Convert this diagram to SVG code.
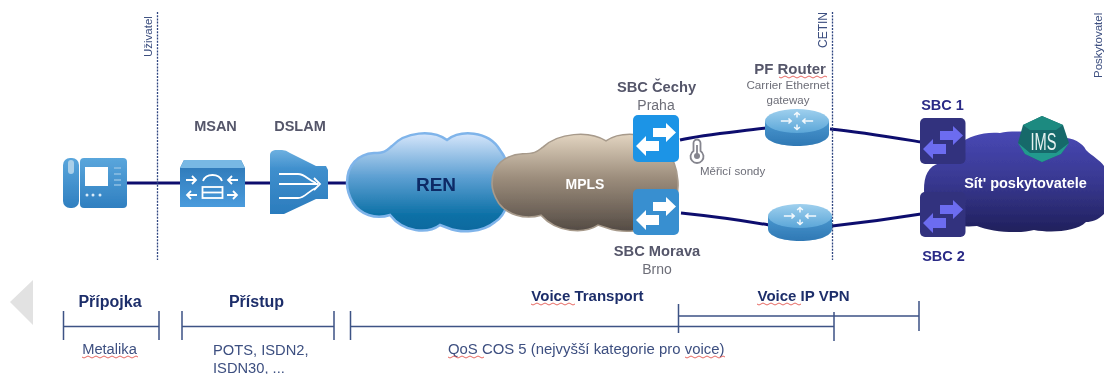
<svg xmlns="http://www.w3.org/2000/svg" xmlns:xlink="http://www.w3.org/1999/xlink" width="1104" height="374" viewBox="0 0 1104 374">
<style>
text{font-family:"Liberation Sans",Arial,sans-serif}
.m{text-anchor:middle}
.lb{font-weight:bold;fill:#55566a}
.sub{fill:#6d6e78}
.nv{font-weight:bold;fill:#1f2f6b}
.tx{fill:#3d4f80}
.sb{font-weight:bold;fill:#2a2a86;font-size:14.500px}
.link{fill:none;stroke:#10106e;stroke-width:3}
.div{fill:none;stroke:#2f4480;stroke-width:1.3;stroke-dasharray:2 1.2}
.bar{fill:none;stroke:#3d5285;stroke-width:1.5}
.wavy{fill:none;stroke:#e0413a;stroke-width:.8}
.w{fill:#fff}
.wl{fill:none;stroke:#fff;stroke-width:1.8}
</style>
<defs>
<filter id="soft" x="-2%" y="-2%" width="104%" height="104%"><feGaussianBlur stdDeviation="0.5"/></filter>
<linearGradient id="gPhone" x1="0" y1="0" x2="0" y2="1"><stop offset="0" stop-color="#5aa6dc"/><stop offset="1" stop-color="#2f7fc0"/></linearGradient>
<linearGradient id="gBox" x1="0" y1="0" x2="0" y2="1"><stop offset="0" stop-color="#2b76b5"/><stop offset="1" stop-color="#4a9bdc"/></linearGradient>
<linearGradient id="gDslam" x1="0" y1="0" x2="0" y2="1"><stop offset="0" stop-color="#6db0e0"/><stop offset=".3" stop-color="#3f8fcd"/><stop offset="1" stop-color="#2b7cbd"/></linearGradient>
<linearGradient id="gRen" x1="0" y1="0" x2="0" y2="1"><stop offset="0" stop-color="#d6e6fb"/><stop offset=".45" stop-color="#5c9fd2"/><stop offset=".85" stop-color="#0a6fa5"/><stop offset="1" stop-color="#0a6a9f"/></linearGradient>
<linearGradient id="gMpls" x1="0" y1="0" x2="0" y2="1"><stop offset="0" stop-color="#e2d4c0"/><stop offset=".45" stop-color="#9c8d7c"/><stop offset="1" stop-color="#544b44"/></linearGradient>
<linearGradient id="gProv" x1="0" y1="0" x2="0" y2="1"><stop offset="0" stop-color="#4848b4"/><stop offset=".5" stop-color="#383890"/><stop offset="1" stop-color="#20205c"/></linearGradient>
<linearGradient id="gRouter" x1="0" y1="0" x2="0" y2="1"><stop offset="0" stop-color="#9fd0ee"/><stop offset="1" stop-color="#5ba6d8"/></linearGradient>
<linearGradient id="gRouterB" x1="0" y1="0" x2="0" y2="1"><stop offset="0" stop-color="#4a97cf"/><stop offset="1" stop-color="#2f78b4"/></linearGradient>
<path id="cloud" d="M347,183C347,165 358,154 374,153C386,153 387,150 392,146C405,132 432,129 447,140C460,130 488,130 500,150C504,155 509,165 510,180C511,195 507,215 495,222C482,233 460,233 448,228L440,225C428,234 404,233 390,215C375,220 360,214 353,203C349,196 347,190 347,183Z"/>
<g id="arrows">
<path d="M20,13H33V8L43,17.500L33,27V22H20Z" fill="currentColor"/>
<path d="M26,26H13V21L3,31L13,41V36H26Z" fill="currentColor"/>
</g>
<g id="rarrows" fill="none" stroke="#fff" stroke-width="1.600" opacity=".9">
<path d="M0,-10V-4M-3,-7L0,-10L3,-7"/>
<path d="M0,10V4M-3,7L0,10L3,7"/>
<path d="M-17,0H-6M-9,-3L-6,0L-9,3"/>
<path d="M17,0H6M9,-3L6,0L9,3"/>
</g>
</defs>
<g filter="url(#soft)">
<rect width="1104" height="374" fill="#fff"/>
<g id="connectors">
<path class="link" d="M127,183H180M245,183H272M326,183H348"/>
<path class="link" d="M680,140C705,134 735,132 766,128"/>
<path class="link" d="M681,213C710,216 740,220 769,225"/>
<path class="link" d="M830,129C860,132 890,137 921,142"/>
<path class="link" d="M832,226C860,223 890,219 921,214"/>
</g>
<g id="dividers">
<path class="div" d="M157.500,12V260"/>
<path class="div" d="M832.500,12V260"/>
<text class="tx" font-size="11.500" transform="translate(152,57) rotate(-90)">Uživatel</text>
<text class="tx" font-size="12" transform="translate(827,48) rotate(-90)">CETIN</text>
<text class="tx" font-size="11.500" transform="translate(1102,78) rotate(-90)">Poskytovatel</text>
</g>
<g id="phone">
<rect x="63" y="158" width="16" height="50" rx="7" fill="url(#gPhone)"/>
<rect x="68" y="160" width="6" height="14" rx="3" fill="#a9cfe9"/>
<rect x="80" y="158" width="47" height="50" rx="4" fill="url(#gPhone)"/>
<rect x="85" y="167" width="23" height="19" fill="#fff"/>
<path d="M114,168H121M114,174H121M114,180H121M114,185H121" stroke="#8fc0e4" stroke-width="1.500"/>
<circle cx="87" cy="195" r="1.500" fill="#d8ebf8"/><circle cx="93" cy="195" r="1.500" fill="#d8ebf8"/><circle cx="100" cy="195" r="1.500" fill="#d8ebf8"/>
</g>
<g id="msan">
<path d="M184,160H241L245,168V207H180V168Z" fill="url(#gBox)"/>
<path d="M184,160H241L245,168H180Z" fill="#78b8e4"/>
<g class="wl">
<path d="M186,180H196M192,176L196,180L192,184"/>
<path d="M238,180H228M232,176L228,180L232,184"/>
<path d="M197,195H187M191,191L187,195L191,199"/>
<path d="M227,195H237M233,191L237,195L233,199"/>
<path d="M203,181C206,173 219,173 222,181"/>
<rect x="202.500" y="187" width="20" height="11"/>
<path d="M202.500,192.500H222.500"/>
</g>
</g>
<g id="dslam">
<path d="M270,155Q270,151 275,150H282Q286,150 290,153L316,166H326L328,170V199H316L284,214H270Z" fill="url(#gDslam)"/>
<g class="wl">
<path d="M279,174H298C305,174 308,180 316,183"/>
<path d="M279,184H318"/>
<path d="M279,198H298C305,198 308,191 316,188"/>
<path d="M314,178L320,184L314,190"/>
</g>
</g>
<text class="lb m" font-size="14.500" x="215.500" y="131">MSAN</text>
<text class="lb m" font-size="14.500" x="300" y="131">DSLAM</text>
<g id="ren">
<use xlink:href="#cloud" href="#cloud" fill="url(#gRen)" stroke="#7fb4ea" stroke-width="2.500"/>
<text class="m" x="436" y="191" font-size="19" font-weight="bold" fill="#0f2a66">REN</text>
</g>
<g id="mpls">
<use xlink:href="#cloud" href="#cloud" fill="url(#gMpls)" stroke="#a79a8b" stroke-width="1.500" transform="translate(492,134) scale(1.140,.99) translate(-347,-133)"/>
<text class="m" x="585" y="189" font-size="14" font-weight="bold" fill="#fff">MPLS</text>
</g>
<g id="sbc-cechy">
<rect x="633" y="115" width="46" height="47" rx="5" fill="#1b94e6"/>
<use xlink:href="#arrows" href="#arrows" color="#fff" transform="translate(633,115)"/>
<text class="lb m" font-size="14.700" x="656.500" y="92">SBC Čechy</text>
<text class="sub m" font-size="14" x="656" y="110">Praha</text>
</g>
<g id="sbc-morava">
<rect x="633" y="189" width="46" height="46" rx="5" fill="#378fd0"/>
<use xlink:href="#arrows" href="#arrows" color="#fff" transform="translate(633,189)"/>
<text class="lb m" font-size="14.700" x="657" y="256">SBC Morava</text>
<text class="sub m" font-size="14" x="657" y="274">Brno</text>
</g>
<g id="sonda">
<path d="M693.500,143a3.500,3.500 0 0 1 7,0V151a6.500,6.500 0 1 1 -7,0Z" fill="#fff" stroke="#85858e" stroke-width="1.800"/>
<circle cx="697" cy="156" r="3" fill="#85858e"/><path d="M697,145V155" stroke="#85858e" stroke-width="1.800"/>
<text class="sub" font-size="11.500" x="700" y="175">Měřicí sondy</text>
</g>
<g id="pe-router">
<path d="M765,121V134C765,141 779,146 797,146C815,146 829,141 829,134V121Z" fill="url(#gRouterB)"/>
<ellipse cx="797" cy="121" rx="32" ry="12" fill="url(#gRouter)"/>
<use xlink:href="#rarrows" href="#rarrows" transform="translate(797,121) scale(.95,.85)"/>
<text class="lb m" font-size="15" x="790" y="74">PF Router</text>
<text class="sub m" font-size="11.700" x="788" y="89">Carrier Ethernet</text>
<text class="sub m" font-size="11.500" x="788" y="104">gateway</text>
<path class="wavy" d="M779,77q2,2 4,0t4,0t4,0t4,0t4,0t4,0t4,0t4,0t4,0t4,0t4,0t4,0"/>
</g>
<g id="router-2">
<path d="M768,216V229C768,236 782,241 800,241C818,241 832,236 832,229V216Z" fill="url(#gRouterB)"/>
<ellipse cx="800" cy="216" rx="32" ry="12" fill="url(#gRouter)"/>
<use xlink:href="#rarrows" href="#rarrows" transform="translate(800,216) scale(.95,.85)"/>
</g>
<g id="provider">
<path d="M924,190C924,176 928,166 940,163C946,150 970,130 1000,133C1015,130 1040,132 1056,138C1070,136 1082,142 1086,150C1092,156 1100,160 1104,166V214C1098,220 1092,222 1086,222C1076,232 1050,233 1034,230C1020,234 990,232 977,226C960,228 945,224 935,214C928,208 924,200 924,190Z" fill="url(#gProv)"/>
<text class="m" x="1025.500" y="188" font-size="14.500" font-weight="bold" fill="#fff">Sít' poskytovatele</text>
</g>
<g id="ims">
<path d="M1042,116L1063,125L1069,143L1061,154L1042,162L1025,154L1018,143L1023,125Z" fill="#17696b"/>
<path d="M1042,116L1063,125L1056,130H1030L1023,125Z" fill="#1f8a80"/>
<path d="M1018,143L1030,153H1056L1069,143L1061,154L1042,162L1025,154Z" fill="#239a8e"/>
<text class="m" x="1043.500" y="150" font-size="23" fill="#e6f2f0" textLength="26" lengthAdjust="spacingAndGlyphs">IMS</text>
</g>
<g id="sbc-1">
<rect x="920" y="118" width="45.500" height="46" rx="5" fill="#32327e"/>
<use xlink:href="#arrows" href="#arrows" color="#6c6cf0" transform="translate(920,118)"/>
<text class="sb m" x="942.500" y="110">SBC 1</text>
</g>
<g id="sbc-2">
<rect x="920" y="192" width="45.500" height="45" rx="5" fill="#32327e"/>
<use xlink:href="#arrows" href="#arrows" color="#6c6cf0" transform="translate(920,192)"/>
<text class="sb m" x="943.500" y="261">SBC 2</text>
</g>
<path id="slide-arrow" d="M33,280L10,302L33,325Z" fill="#e2e2e2"/>
<g id="scale">
<path class="bar" d="M63.500,311V340M63.500,326.500H159M159,311V340"/>
<path class="bar" d="M182,311V340M182,326.500H334M334,311V340"/>
<path class="bar" d="M350.500,311V340M350.500,326.500H834M834,312V341"/>
<path class="bar" d="M678.500,304V333M678.500,316H919M919,301V331"/>
<text class="nv m" font-size="16" x="110" y="307">Přípojka</text>
<text class="nv m" font-size="16" x="256.500" y="307">Přístup</text>
<text class="nv m" font-size="15" x="587.500" y="301">Voice Transport</text>
<text class="nv m" font-size="15" x="803.500" y="301">Voice IP VPN</text>
<text class="tx m" font-size="14.700" x="109.500" y="354">Metalika</text>
<text class="tx" font-size="14.700" x="213" y="355">POTS, ISDN2,</text>
<text class="tx" font-size="14.700" x="213" y="373">ISDN30, ...</text>
<text class="tx" font-size="14.900" x="448" y="354">QoS COS 5 (nejvyšší kategorie pro voice)</text>
<path class="wavy" d="M82,357q2,2 4,0t4,0t4,0t4,0t4,0t4,0t4,0t4,0t4,0t4,0t4,0t4,0t4,0t4,0"/>
<path class="wavy" d="M448,357q2,2 4,0t4,0t4,0t4,0t4,0t4,0t4,0t4,0t4,0"/>
<path class="wavy" d="M685,357q2,2 4,0t4,0t4,0t4,0t4,0t4,0t4,0t4,0t4,0t4,0"/>
<path class="wavy" d="M531,304q2,2 4,0t4,0t4,0t4,0t4,0t4,0t4,0t4,0t4,0t4,0t4,0"/>
<path class="wavy" d="M757,304q2,2 4,0t4,0t4,0t4,0t4,0t4,0t4,0t4,0t4,0t4,0t4,0"/>
</g>
</g>
</svg>
